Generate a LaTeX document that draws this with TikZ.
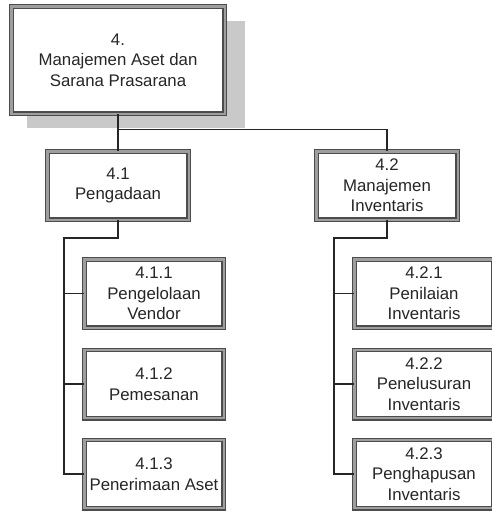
\documentclass[tikz,border=0pt]{standalone}
\usepackage{fontspec}
\setmainfont{Liberation Sans}
\begin{document}
\begin{tikzpicture}[x=1pt,y=-1pt,
  every node/.style={font=\fontsize{16.8}{20.5}\selectfont},
  wbsbox/.style={draw=black!70, line width=1.3pt, double=black!38,
    double distance=2.2pt, fill=white, inner sep=0pt, align=center,
    text=black!85},
  topbox/.style={wbsbox, minimum width=213.2pt, minimum height=107.2pt},
  midbox/.style={wbsbox, minimum width=141.2pt, minimum height=68.2pt},
  leafbox/.style={wbsbox, minimum width=139.2pt, minimum height=68.2pt},
  conn/.style={draw=black!85, line width=1.4pt},
  shade/.style={fill=black!21}
]
\useasboundingbox (0,0) rectangle (492,512);

% drop shadow behind the root box
\fill[shade] (27,21) rectangle (245,128);

% root
\node[topbox] (top) at (118,60) {4.\\Manajemen Aset dan\\Sarana Prasarana};

% second level
\node[midbox] (a) at (118,185.5) {4.1\\Pengadaan};
\node[midbox] (b) at (387,185.5) {4.2\\Manajemen\\Inventaris};

% leaves under 4.1
\node[leafbox] (a1) at (154,293.5) {4.1.1\\Pengelolaan\\Vendor};
\node[leafbox] (a2) at (154,384) {4.1.2\\Pemesanan};
\node[leafbox] (a3) at (154,474) {4.1.3\\Penerimaan Aset};

% leaves under 4.2
\node[leafbox] (b1) at (424,293.5) {4.2.1\\Penilaian\\Inventaris};
\node[leafbox] (b2) at (424,384) {4.2.2\\Penelusuran\\Inventaris};
\node[leafbox] (b3) at (424,474) {4.2.3\\Penghapusan\\Inventaris};

% connector junctions
\coordinate (hub) at (118,129.5);
\coordinate (ja) at (64,238);
\coordinate (jb) at (334,238);

% root to second level
\draw[conn] (top.south) -- (hub) -| (b.north);
\draw[conn] (hub) -- (a.north);

% 4.1 to its leaves
\draw[conn] (a.south) |- (ja) -- (ja |- a3.west) -- (a3.west);
\draw[conn] (ja |- a1.west) -- (a1.west);
\draw[conn] (ja |- a2.west) -- (a2.west);

% 4.2 to its leaves
\draw[conn] (b.south) |- (jb) -- (jb |- b3.west) -- (b3.west);
\draw[conn] (jb |- b1.west) -- (b1.west);
\draw[conn] (jb |- b2.west) -- (b2.west);
\end{tikzpicture}
\end{document}
